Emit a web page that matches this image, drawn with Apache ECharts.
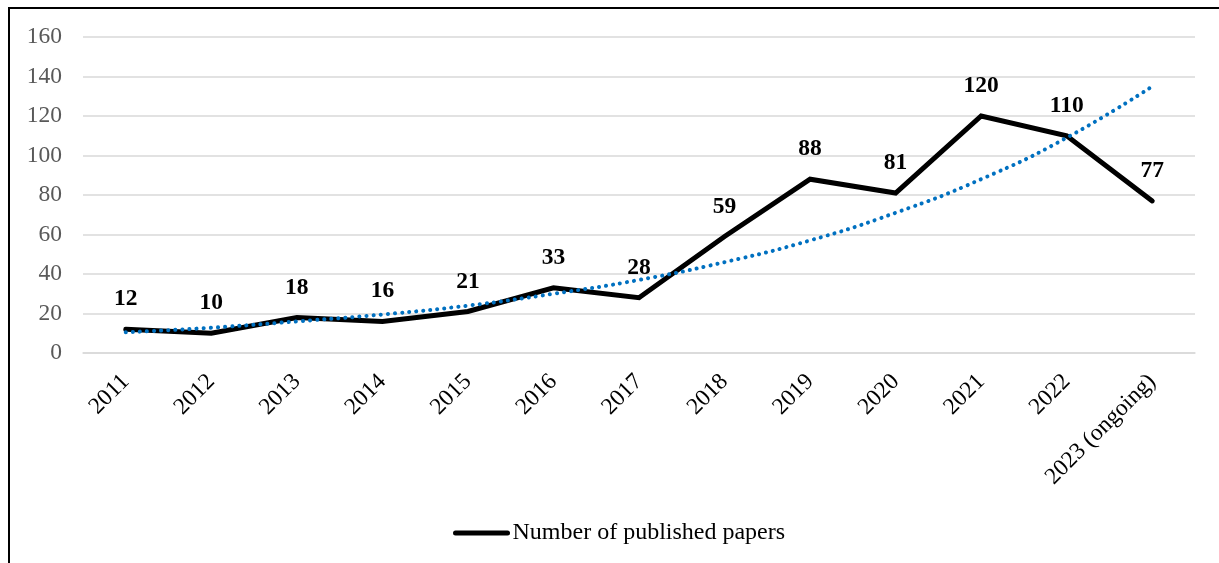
<!DOCTYPE html>
<html>
<head>
<meta charset="utf-8">
<script src="https://cdn.jsdelivr.net/npm/echarts@6/dist/echarts.min.js"></script>
<style>
html,body{margin:0;padding:0;background:#fff;}
#chart{position:absolute;left:0;top:0;width:1219px;height:563px;}
#frame{position:absolute;left:8px;top:7px;width:1300px;height:700px;border-left:2px solid #000;border-top:2px solid #000;pointer-events:none;}
</style>
</head>
<body>
<div id="chart"></div>
<div id="frame"></div>
<script>
const categories = ['2011','2012','2013','2014','2015','2016','2017','2018','2019','2020','2021','2022','2023 (ongoing)'];
const papers = [12, 10, 18, 16, 21, 33, 28, 59, 88, 81, 120, 110, 77];
const trend = [10.5, 12.8, 16, 19.5, 24, 30, 37, 46, 57, 71, 88, 109, 135];
const yTicks = {min: 0, max: 160, interval: 20};
const seriesName = 'Number of published papers';

const chart = echarts.init(document.getElementById('chart'));
const font = '"Liberation Serif", "Times New Roman", serif';
chart.setOption({
  animation: false,
  textStyle: {fontFamily: font},
  grid: {left: 83, right: 24, top: 37, bottom: 210},
  legend: {
    data: [seriesName],
    left: 448, top: 516,
    itemWidth: 52, itemHeight: 14,
    textStyle: {fontFamily: font, fontSize: 24, color: '#000'},
    itemStyle: {opacity: 0},
    lineStyle: {color: '#000', width: 5, cap: 'round'}
  },
  xAxis: {
    type: 'category',
    data: categories,
    boundaryGap: true,
    axisLine: {show: true, lineStyle: {color: '#d9d9d9', width: 1.5}},
    axisTick: {show: false},
    axisLabel: {rotate: 45, interval: 0, margin: 25, fontFamily: font, fontSize: 23.5, color: '#000'}
  },
  yAxis: {
    type: 'value',
    min: yTicks.min, max: yTicks.max, interval: yTicks.interval,
    axisLine: {show: false},
    axisTick: {show: false},
    splitLine: {lineStyle: {color: '#d9d9d9', width: 1.5}},
    axisLabel: {margin: 21, fontFamily: font, fontSize: 23.5, color: '#595959'}
  },
  series: [
    {
      name: 'trend',
      type: 'line',
      data: trend,
      smooth: true,
      symbol: 'none',
      silent: true,
      lineStyle: {color: '#0070C0', width: 4, type: [0.1, 7], cap: 'round'},
      z: 3
    },
    {
      name: seriesName,
      type: 'line',
      data: papers,
      symbol: 'circle',
      symbolSize: 2,
      itemStyle: {color: '#000'},
      lineStyle: {color: '#000', width: 5, cap: 'round', join: 'miter'},
      label: {
        show: true, position: 'top', distance: 17,
        fontFamily: font, fontSize: 23.5, fontWeight: 'bold', color: '#000'
      },
      z: 2
    }
  ]
});
</script>
</body>
</html>
